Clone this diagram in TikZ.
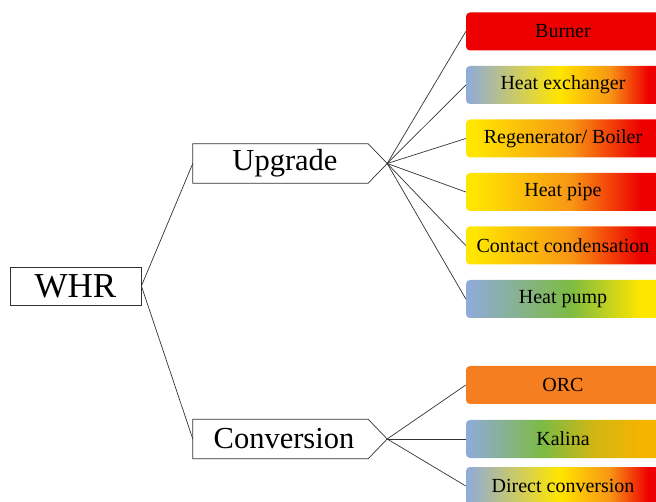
\documentclass[tikz,border=0pt]{standalone}
\usepackage{fontspec}
\setmainfont{Liberation Serif}

% palette
\definecolor{cblue}{RGB}{143,170,220}
\definecolor{cyellow}{RGB}{255,230,0}
\definecolor{corange}{RGB}{248,150,20}
\definecolor{cred}{RGB}{238,0,0}
\definecolor{cgreen}{RGB}{125,187,66}
\definecolor{cgold}{RGB}{245,180,0}
\definecolor{corc}{RGB}{244,126,32}
\definecolor{lineclr}{RGB}{50,50,50}

% horizontal colour ramps (25bp..75bp spans the box)
\pgfdeclarehorizontalshading{bluetored}{100bp}{color(0bp)=(cblue); color(25bp)=(cblue); color(49bp)=(cyellow); color(62bp)=(corange); color(72bp)=(cred); color(100bp)=(cred)}
\pgfdeclarehorizontalshading{yellowtored}{100bp}{color(0bp)=(cyellow); color(27bp)=(cyellow); color(52bp)=(corange); color(70bp)=(cred); color(100bp)=(cred)}
\pgfdeclarehorizontalshading{bluetoyellow}{100bp}{color(0bp)=(cblue); color(25bp)=(cblue); color(52bp)=(cgreen); color(70bp)=(cyellow); color(100bp)=(cyellow)}
\pgfdeclarehorizontalshading{bluetogold}{100bp}{color(0bp)=(cblue); color(25bp)=(cblue); color(45bp)=(cgreen); color(58bp)=(cgold!70!cgreen); color(70bp)=(cgold); color(100bp)=(cgold)}

\begin{document}
\begin{tikzpicture}[x=1pt,y=-1pt,
  conn/.style={draw=lineclr,line width=0.7pt},
  rootbox/.style={draw=lineclr,line width=0.8pt,minimum width=131pt,minimum height=38pt,
    inner sep=0pt,font=\fontsize{35}{38}\selectfont},
  midbox/.style={minimum width=175pt,minimum height=39pt,inner sep=0pt,
    font=\fontsize{30.5}{33}\selectfont},
  leaf/.style={rounded corners=4pt,minimum width=194pt,minimum height=38pt,inner sep=0pt,
    font=\fontsize{20}{24}\selectfont,text=black}]
\useasboundingbox (0,0) rectangle (656,502);
\clip (0,0) rectangle (656,502);

% root
\node[rootbox] (whr) at (75.5,286) {WHR};

% second level: arrow-shaped boxes
\node[midbox] (up) at (280.5,163.5) {\hspace*{9pt}Upgrade};
\node[midbox] (conv) at (280.5,439) {\hspace*{7pt}Conversion};
\foreach \n in {up,conv}{
  \draw[conn] (\n.north west) -- (\n.north east) -- ([xshift=19pt]\n.east) coordinate (\n tip)
    -- (\n.south east) -- (\n.south west) -- cycle;
}

% leaves of the upgrade branch
\node[leaf,fill=cred] (burner) at (563,31.5) {Burner};
\node[leaf,shading=bluetored] (hx) at (563,85) {Heat exchanger};
\node[leaf,shading=yellowtored] (regen) at (563,138.5) {Regenerator/ Boiler};
\node[leaf,shading=yellowtored] (pipe) at (563,192) {Heat pipe};
\node[leaf,shading=yellowtored] (contact) at (563,245.5) {Contact condensation};
\node[leaf,shading=bluetoyellow] (pump) at (563,299) {Heat pump};

% leaves of the conversion branch
\node[leaf,fill=corc] (orc) at (563,385) {ORC};
\node[leaf,shading=bluetogold] (kalina) at (563,439) {Kalina};
\node[leaf,shading=bluetored] (direct) at (563,486) {Direct conversion};

% connectors
\draw[conn] (whr.east) -- (up.west);
\draw[conn] (whr.east) -- (conv.west);
\foreach \m in {burner,hx,regen,pipe,contact,pump}
  \draw[conn] (uptip) -- (\m.west);
\foreach \m in {orc,kalina,direct}
  \draw[conn] (convtip) -- (\m.west);
\end{tikzpicture}
\end{document}
